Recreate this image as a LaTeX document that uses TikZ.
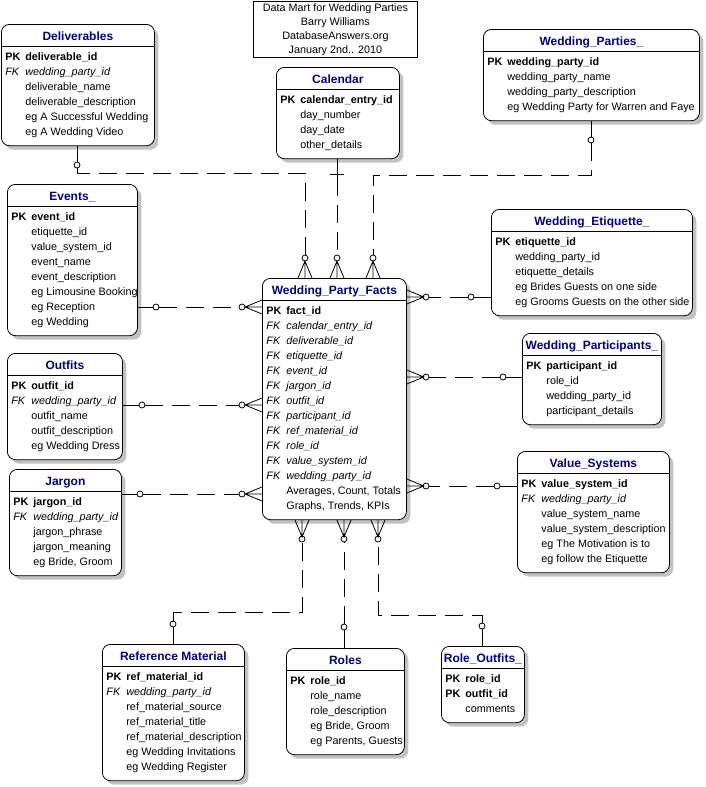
\documentclass[tikz,border=0pt]{standalone}
\usepackage{fontspec}
\setmainfont{Liberation Sans}
\usepackage{array}
\usetikzlibrary{shadows}
\definecolor{navy}{RGB}{0,0,128}
\setlength{\arrayrulewidth}{0.8pt}

\newcommand{\pk}[1]{\mbox{\hspace*{4pt}\makebox[20pt][l]{\bfseries PK}\textbf{#1}}}
\newcommand{\fk}[1]{\mbox{\hspace*{4pt}\makebox[20pt][l]{\itshape FK}\textit{#1}}}
\newcommand{\fld}[1]{\mbox{\hspace*{24pt}#1}}
\newcommand{\etitle}[1]{\multicolumn{1}{@{}c@{}}{\rule[-6pt]{0pt}{22pt}\textcolor{navy}{\fontsize{12}{14}\selectfont\bfseries #1}}\\\hline\noalign{\vskip3pt}}
\newcommand{\eend}{\noalign{\vskip5.5pt}}

\tikzset{
  entity/.style={draw, fill=white, rounded corners=8pt, inner sep=0pt, anchor=north west,
    font=\fontsize{10.8}{15}\selectfont,
    drop shadow={shadow xshift=4pt, shadow yshift=-4pt, fill=black!24, opacity=1}},
  ring/.style={draw, circle, fill=white, inner sep=0pt, minimum size=6pt},
  rel/.style={dash pattern=on 18pt off 9pt},
  crow/.pic={\draw (0,-7) -- (17,0) -- (0,7) (0,0) -- (17,0);}
}

\begin{document}
\begin{tikzpicture}[x=1pt,y=-1pt,line width=0.8pt]
\useasboundingbox (0,0) rectangle (705,787);

\node[draw, align=center, anchor=north west, inner sep=0pt, minimum width=164pt, minimum height=56pt,
  font=\fontsize{10.8}{14}\selectfont] (info) at (253,1)
  {Data Mart for Wedding Parties\\Barry Williams\\DatabaseAnswers.org\\January 2nd.. 2010};

\node[entity] (deliv) at (1,24) {\begin{tabular}{@{}p{153pt}@{}}
  \etitle{Deliverables}
  \pk{deliverable\_id}\\
  \fk{wedding\_party\_id}\\
  \fld{deliverable\_name}\\
  \fld{deliverable\_description}\\
  \fld{eg A Successful Wedding}\\
  \fld{eg A Wedding Video}\\ \eend
\end{tabular}};

\node[entity] (cal) at (276,67) {\begin{tabular}{@{}p{123pt}@{}}
  \etitle{Calendar}
  \pk{calendar\_entry\_id}\\
  \fld{day\_number}\\
  \fld{day\_date}\\
  \fld{other\_details}\\ \eend
\end{tabular}};

\node[entity] (wp) at (483,29) {\begin{tabular}{@{}p{216pt}@{}}
  \etitle{Wedding\_Parties\_}
  \pk{wedding\_party\_id}\\
  \fld{wedding\_party\_name}\\
  \fld{wedding\_party\_description}\\
  \fld{eg Wedding Party for Warren and Faye}\\ \eend
\end{tabular}};

\node[entity] (events) at (7,184) {\begin{tabular}{@{}p{130pt}@{}}
  \etitle{Events\_}
  \pk{event\_id}\\
  \fld{etiquette\_id}\\
  \fld{value\_system\_id}\\
  \fld{event\_name}\\
  \fld{event\_description}\\
  \fld{eg Limousine Booking}\\
  \fld{eg Reception}\\
  \fld{eg Wedding}\\ \eend
\end{tabular}};

\node[entity] (outfits) at (7,353) {\begin{tabular}{@{}p{115pt}@{}}
  \etitle{Outfits}
  \pk{outfit\_id}\\
  \fk{wedding\_party\_id}\\
  \fld{outfit\_name}\\
  \fld{outfit\_description}\\
  \fld{eg Wedding Dress}\\ \eend
\end{tabular}};

\node[entity] (jargon) at (9,469) {\begin{tabular}{@{}p{112pt}@{}}
  \etitle{Jargon}
  \pk{jargon\_id}\\
  \fk{wedding\_party\_id}\\
  \fld{jargon\_phrase}\\
  \fld{jargon\_meaning}\\
  \fld{eg Bride, Groom}\\ \eend
\end{tabular}};

\node[entity] (etiq) at (491,209) {\begin{tabular}{@{}p{201pt}@{}}
  \etitle{Wedding\_Etiquette\_}
  \pk{etiquette\_id}\\
  \fld{wedding\_party\_id}\\
  \fld{etiquette\_details}\\
  \fld{eg Brides Guests on one side}\\
  \fld{eg Grooms Guests on the other side}\\ \eend
\end{tabular}};

\node[entity] (parts) at (522,333) {\begin{tabular}{@{}p{139pt}@{}}
  \etitle{Wedding\_Participants\_}
  \pk{participant\_id}\\
  \fld{role\_id}\\
  \fld{wedding\_party\_id}\\
  \fld{participant\_details}\\ \eend
\end{tabular}};

\node[entity] (vs) at (517,451) {\begin{tabular}{@{}p{152pt}@{}}
  \etitle{Value\_Systems}
  \pk{value\_system\_id}\\
  \fk{wedding\_party\_id}\\
  \fld{value\_system\_name}\\
  \fld{value\_system\_description}\\
  \fld{eg The Motivation is to}\\
  \fld{eg follow the Etiquette}\\ \eend
\end{tabular}};

\node[entity] (facts) at (262,278) {\begin{tabular}{@{}p{144pt}@{}}
  \etitle{Wedding\_Party\_Facts}
  \pk{fact\_id}\\
  \fk{calendar\_entry\_id}\\
  \fk{deliverable\_id}\\
  \fk{etiquette\_id}\\
  \fk{event\_id}\\
  \fk{jargon\_id}\\
  \fk{outfit\_id}\\
  \fk{participant\_id}\\
  \fk{ref\_material\_id}\\
  \fk{role\_id}\\
  \fk{value\_system\_id}\\
  \fk{wedding\_party\_id}\\
  \fld{Averages, Count, Totals}\\
  \fld{Graphs, Trends, KPIs}\\ \eend
\end{tabular}};

\node[entity] (refmat) at (102,644) {\begin{tabular}{@{}p{142pt}@{}}
  \etitle{Reference Material}
  \pk{ref\_material\_id}\\
  \fk{wedding\_party\_id}\\
  \fld{ref\_material\_source}\\
  \fld{ref\_material\_title}\\
  \fld{ref\_material\_description}\\
  \fld{eg Wedding Invitations}\\
  \fld{eg Wedding Register}\\ \eend
\end{tabular}};

\node[entity] (roles) at (286,648) {\begin{tabular}{@{}p{118pt}@{}}
  \etitle{Roles}
  \pk{role\_id}\\
  \fld{role\_name}\\
  \fld{role\_description}\\
  \fld{eg Bride, Groom}\\
  \fld{eg Parents, Guests}\\ \eend
\end{tabular}};

\node[entity] (ro) at (441,646) {\begin{tabular}{@{}p{83pt}@{}}
  \etitle{Role\_Outfits\_}
  \pk{role\_id}\\
  \pk{outfit\_id}\\
  \fld{comments}\\ \eend
\end{tabular}};

% top
\node[ring] (dr) at (77,165) {};
\node[ring] (fdel) at (305,258) {};
\draw (deliv.south -| dr) -- (dr);
\draw[rel] (dr) |- (305,173) -- (fdel);
\coordinate (cbar) at (337,174);
\node[ring] (fcal) at (337,258) {};
\draw (cal.south -| cbar) -- ([yshift=-4pt]cbar);
\draw ([xshift=-7pt]cbar) -- ([xshift=7pt]cbar);
\draw[rel] ([yshift=-4pt]cbar) -- (fcal);
\node[ring] (wr) at (591,140) {};
\node[ring] (fwp) at (373,258) {};
\draw (wp.south -| wr) -- (wr);
\draw[rel] (wr) |- (373,175) -- (fwp);
\pic[rotate=90] at (facts.north -| fdel) {crow};
\pic[rotate=90] at (facts.north -| fcal) {crow};
\pic[rotate=90] at (facts.north -| fwp) {crow};

% left
\node[ring] (er) at (156,307) {};
\node[ring] (fev) at (242,307) {};
\draw (events.east |- er) -- (er);
\draw[rel] (er) -- (fev);
\node[ring] (otr) at (142,405) {};
\node[ring] (fot) at (242,405) {};
\draw (outfits.east |- otr) -- (otr);
\draw[rel] (otr) -- (fot);
\node[ring] (jr) at (140,494) {};
\node[ring] (fja) at (242,494) {};
\draw (jargon.east |- jr) -- (jr);
\draw[rel] (jr) -- (fja);
\pic[rotate=180] at (facts.west |- fev) {crow};
\pic[rotate=180] at (facts.west |- fot) {crow};
\pic[rotate=180] at (facts.west |- fja) {crow};

% right
\node[ring] (etr) at (471,297) {};
\node[ring] (fet) at (426,297) {};
\draw (etiq.west |- etr) -- (etr);
\draw[rel] (etr) -- (fet);
\node[ring] (ptr) at (503,377) {};
\node[ring] (fpt) at (426,377) {};
\draw (parts.west |- ptr) -- (ptr);
\draw[rel] (ptr) -- (fpt);
\node[ring] (vsr) at (497,486) {};
\node[ring] (fvs) at (426,486) {};
\draw (vs.west |- vsr) -- (vsr);
\draw[rel] (vsr) -- (fvs);
\pic at (facts.east |- fet) {crow};
\pic at (facts.east |- fpt) {crow};
\pic at (facts.east |- fvs) {crow};

% bottom
\node[ring] (rmr) at (173,624) {};
\node[ring] (frm) at (302,539) {};
\draw (refmat.north -| rmr) -- (rmr);
\draw[rel] (rmr) |- (302,612) -- (frm);
\node[ring] (rlr) at (344,627) {};
\node[ring] (frl) at (344,539) {};
\draw (roles.north -| rlr) -- (rlr);
\draw[rel] (rlr) -- (frl);
\node[ring] (ror) at (482,626) {};
\node[ring] (fro) at (378,539) {};
\draw (ro.north -| ror) -- (ror);
\draw[rel] (ror) |- (378,615) -- (fro);
\pic[rotate=-90] at (facts.south -| frm) {crow};
\pic[rotate=-90] at (facts.south -| frl) {crow};
\pic[rotate=-90] at (facts.south -| fro) {crow};
\end{tikzpicture}
\end{document}
